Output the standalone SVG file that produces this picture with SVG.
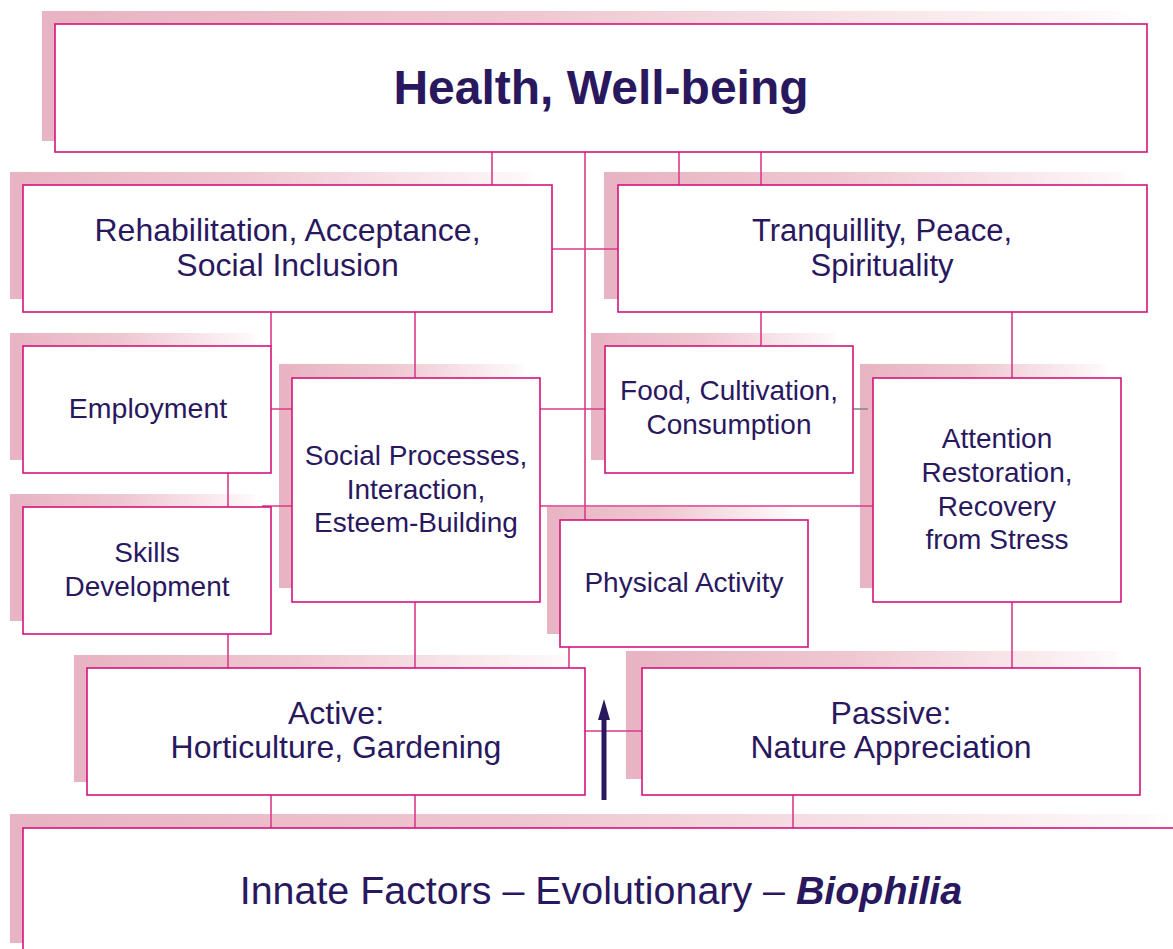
<svg xmlns="http://www.w3.org/2000/svg" width="1173" height="949" viewBox="0 0 1173 949">
<defs>
<linearGradient id="sh" x1="0" y1="0" x2="1" y2="0">
<stop offset="0" stop-color="#e8b3c2"/>
<stop offset="0.45" stop-color="#efc7d1"/>
<stop offset="0.97" stop-color="#fdf8f9"/>
<stop offset="1" stop-color="#ffffff"/>
</linearGradient>
<style>
.s{fill:url(#sh);}
.b{fill:#fff;stroke:#d4157c;stroke-width:1.6;}
.c{fill:none;stroke:#d83d8c;stroke-width:1.6;}
.t{font-family:"Liberation Sans",Arial,sans-serif;font-size:28px;fill:#2a185f;text-anchor:middle;}
.m{font-size:31px;}
.l{font-size:32px;}
</style>
</defs>
<rect width="1173" height="949" fill="#fff"/>
<g id="shadows">
<rect class="s" x="42" y="11" width="1092" height="130"/>
<rect class="s" x="10" y="172" width="529" height="127"/>
<rect class="s" x="604" y="172" width="529" height="127"/>
<rect class="s" x="10" y="333" width="248" height="127"/>
<rect class="s" x="10" y="494" width="248" height="127"/>
<rect class="s" x="279" y="364" width="248" height="224"/>
<rect class="s" x="591" y="333" width="248" height="127"/>
<rect class="s" x="547" y="507" width="248" height="127"/>
<rect class="s" x="860" y="364" width="248" height="224"/>
<rect class="s" x="74" y="655" width="498" height="127"/>
<rect class="s" x="626" y="651" width="498" height="128"/>
<rect class="s" x="10" y="814" width="1163" height="129"/>
</g>
<g id="connectors">
<path class="c" d="M492 152V185M585 152V520M679 152V185M761 152V185M552 249H618"/>
<path class="c" d="M271 312V346M415 312V378M271 409H292M228 473V507M262 506H292"/>
<path class="c" d="M540 409H605M540 506H873M761 312V346M1012 312V378"/>
<path d="M853 409H868" fill="none" stroke="#8a8a8a" stroke-width="1.6"/>
<path class="c" d="M1012 602V668M415 602V668M228 634V668M569 647V668M585 731H642"/>
<path class="c" d="M271 795V828M415 795V828M793 795V828"/>
<polygon points="604,699 610,720 606.5,720 606.5,800 601.5,800 601.5,720 598,720" fill="#2a185f"/>
</g>
<g id="n-health">
<rect class="b" x="55" y="24" width="1092" height="128"/>
<text class="t" x="601" y="104" style="font-size:48px;font-weight:bold">Health, Well-being</text>
</g>
<g id="n-rehab">
<rect class="b" x="23" y="185" width="529" height="127"/>
<text class="t l" x="287.5" y="241">Rehabilitation, Acceptance,</text>
<text class="t l" x="287.5" y="276">Social Inclusion</text>
</g>
<g id="n-tranq">
<rect class="b" x="618" y="185" width="529" height="127"/>
<text class="t m" x="882" y="241">Tranquillity, Peace,</text>
<text class="t m" x="882" y="276">Spirituality</text>
</g>
<g id="n-employment">
<rect class="b" x="23" y="346" width="248" height="127"/>
<text class="t" x="148" y="418" style="font-size:28.5px">Employment</text>
</g>
<g id="n-skills">
<rect class="b" x="23" y="507" width="248" height="127"/>
<text class="t" x="147" y="562">Skills</text>
<text class="t" x="147" y="596">Development</text>
</g>
<g id="n-social">
<rect class="b" x="292" y="378" width="248" height="224"/>
<text class="t" x="416" y="465">Social Processes,</text>
<text class="t" x="416" y="499">Interaction,</text>
<text class="t" x="416" y="532">Esteem-Building</text>
</g>
<g id="n-food">
<rect class="b" x="605" y="346" width="248" height="127"/>
<text class="t" x="729" y="400">Food, Cultivation,</text>
<text class="t" x="729" y="434">Consumption</text>
</g>
<g id="n-physical">
<rect class="b" x="560" y="520" width="248" height="127"/>
<text class="t" x="684" y="592">Physical Activity</text>
</g>
<g id="n-attention">
<rect class="b" x="873" y="378" width="248" height="224"/>
<text class="t" x="997" y="448">Attention</text>
<text class="t" x="997" y="482">Restoration,</text>
<text class="t" x="997" y="516">Recovery</text>
<text class="t" x="997" y="549">from Stress</text>
</g>
<g id="n-active">
<rect class="b" x="87" y="668" width="498" height="127"/>
<text class="t l" x="336" y="724">Active:</text>
<text class="t l" x="336" y="758">Horticulture, Gardening</text>
</g>
<g id="n-passive">
<rect class="b" x="642" y="668" width="498" height="127"/>
<text class="t l" x="891" y="724">Passive:</text>
<text class="t l" x="891" y="758">Nature Appreciation</text>
</g>
<g id="n-innate">
<rect class="b" x="23" y="828" width="1170" height="140"/>
<text class="t" x="601" y="904" style="font-size:39.4px">Innate Factors – Evolutionary – <tspan style="font-weight:bold;font-style:italic">Biophilia</tspan></text>
</g>
</svg>
